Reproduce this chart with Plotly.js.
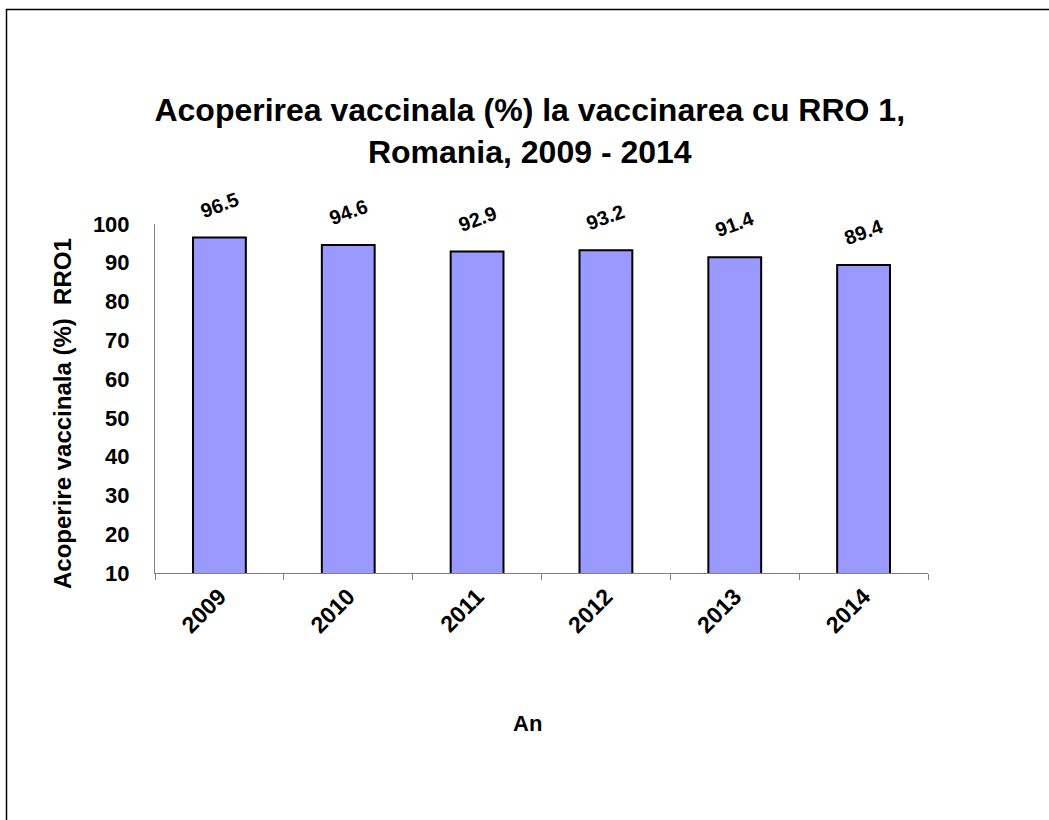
<!DOCTYPE html>
<html><head><meta charset="utf-8">
<script src="https://cdn.plot.ly/plotly-3.0.1.min.js"></script>
<style>html,body{margin:0;padding:0;background:#fff}#chart{width:1049px;height:820px}</style>
</head><body><div id="chart"></div>
<script>
const years = ['2009','2010','2011','2012','2013','2014'];
const coverage = [96.5, 94.6, 92.9, 93.2, 91.4, 89.4];
const yTicks = [10,20,30,40,50,60,70,80,90,100];

const W = 1049, H = 820;
const L = 155, R = 121, T = 224, B = 247;
const pw = W - L - R, ph = H - T - B;
const px = v => (v - L) / pw;
const py = v => 1 - (v - T) / ph;

const FONT = 'Liberation Sans, Arial, sans-serif';

const trace = {
  type: 'bar', x: years, y: coverage,
  marker: {color: '#9999FF', line: {color: '#000', width: 2}},
  hoverinfo: 'x+y'
};

const annotations = years.map((yr, i) => ({
  x: i, y: coverage[i], xref: 'x', yref: 'y',
  text: '<b>' + coverage[i].toFixed(1) + '</b>',
  showarrow: false, textangle: -20, yshift: 33,
  font: {family: FONT, size: 20, color: '#000'}
}));
annotations.push({
  xref: 'paper', yref: 'paper', x: px(527), y: py(723),
  xanchor: 'center', yanchor: 'middle',
  text: '<b>An</b>', showarrow: false,
  font: {family: FONT, size: 22, color: '#000'}
});
annotations.push({
  xref: 'paper', yref: 'paper', x: px(62), y: py(414),
  xanchor: 'center', yanchor: 'middle', textangle: -90,
  text: '<b>Acoperire vaccinala (%)  RRO1</b>', showarrow: false,
  font: {family: FONT, size: 24, color: '#000'}
});

const layout = {
  width: W, height: H,
  margin: {l: L, r: R, t: T, b: B, pad: 0},
  paper_bgcolor: '#fff', plot_bgcolor: '#fff',
  showlegend: false,
  bargap: 0.59,
  title: {
    text: '<b>Acoperirea vaccinala (%) la vaccinarea cu RRO 1,<br>Romania, 2009 - 2014</b>',
    font: {family: FONT, size: 32, color: '#000'},
    x: 0.505, xanchor: 'center', y: 1 - 121/H, yanchor: 'middle'
  },
  xaxis: {
    type: 'category', tickson: 'boundaries',
    range: [-0.5, 5.5],
    ticks: 'outside', ticklen: 6, tickcolor: '#808080', tickwidth: 1,
    showline: true, linecolor: '#808080', linewidth: 1,
    showgrid: false, zeroline: false,
    tickangle: -45,
    tickfont: {family: FONT, size: 23, color: '#000'},
    tickprefix: '<b>', ticksuffix: '</b>'
  },
  yaxis: {
    range: [10, 100], tickvals: yTicks,
    ticktext: yTicks.map(v => '<b>' + v + '</b>'),
    ticks: '', showline: true, linecolor: '#808080', linewidth: 1,
    showgrid: false, zeroline: false,
    tickfont: {family: FONT, size: 22, color: '#000'},
    ticklabelstandoff: 20
  },
  annotations: annotations,
  shapes: [{
    type: 'rect', xref: 'paper', yref: 'paper',
    x0: px(6.5), x1: px(1070), y0: py(840), y1: py(9.5),
    line: {color: '#000', width: 1.5}, fillcolor: 'rgba(0,0,0,0)', layer: 'below'
  }]
};

Plotly.newPlot('chart', [trace], layout, {displayModeBar: false, staticPlot: true});
</script>
</body></html>
